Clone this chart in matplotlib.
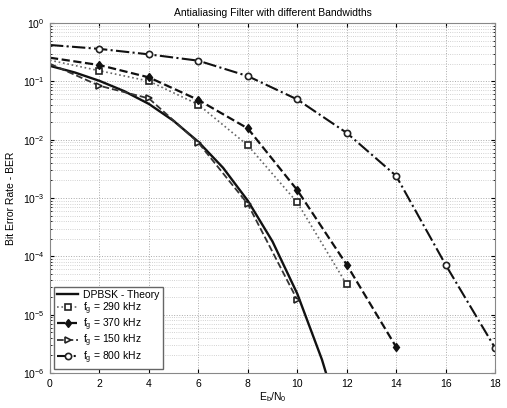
import matplotlib
matplotlib.use("Agg")
import matplotlib.pyplot as plt
from matplotlib.ticker import LogLocator, NullFormatter

# Eb/N0 in dB
x_theory = [0, 1, 2, 3, 4, 5, 6, 7, 8, 9, 10, 11, 12]
ber_theory = [0.184, 0.142, 0.102, 0.068, 0.041, 0.021, 0.0092, 0.0033,
              9.0e-4, 1.8e-4, 2.3e-5, 1.7e-6, 6.8e-8]

x_290 = [0, 2, 4, 6, 8, 10, 12]
ber_290 = [0.23, 0.152, 0.101, 0.040, 0.008, 8.4e-4, 3.3e-5]

x_370 = [0, 2, 4, 6, 8, 10, 12, 14]
ber_370 = [0.254, 0.19, 0.117, 0.048, 0.0156, 1.37e-3, 7.2e-5, 2.8e-6]

x_150 = [0, 2, 4, 6, 8, 10]
ber_150 = [0.2, 0.084, 0.051, 0.0089, 7.9e-4, 1.8e-5]

x_800 = [0, 2, 4, 6, 8, 10, 12, 14, 16, 18]
ber_800 = [0.42, 0.36, 0.29, 0.226, 0.123, 0.049, 0.0131, 0.0024, 7.2e-5, 2.7e-6]

labels = ["DPBSK - Theory", "f$_g$ = 290 kHz", "f$_g$ = 370 kHz",
          "f$_g$ = 150 kHz", "f$_g$ = 800 kHz"]

plt.rcParams['font.family'] = ['Liberation Sans', 'DejaVu Sans']
plt.rcParams['mathtext.fontset'] = 'custom'
plt.rcParams['mathtext.rm'] = 'Liberation Sans'
plt.rcParams['mathtext.it'] = 'Liberation Sans'
fig = plt.figure(figsize=(5.07, 4.08), dpi=100)
ax = fig.add_axes([0.0986, 0.0858, 0.8777, 0.8578])

ms = 4.5
ax.semilogy(x_theory, ber_theory, '-', color='#111111', lw=1.7, label=labels[0])
ax.semilogy(x_290, ber_290, ':', color='#666666', lw=1.2, marker='s', ms=ms,
            mfc='white', mec='#222222', mew=1.2, markevery=slice(1, None), label=labels[1])
ax.semilogy(x_370, ber_370, '--', color='#111111', lw=1.6, marker='d', ms=ms,
            mfc='#111111', mec='#111111', markevery=slice(1, None), label=labels[2])
ax.semilogy(x_150, ber_150, '--', color='#333333', lw=1.3, marker='>', ms=ms,
            mfc='white', mec='#222222', mew=1.2, markevery=slice(1, None), label=labels[3])
ax.semilogy(x_800, ber_800, '-.', color='#111111', lw=1.5, marker='o', ms=ms,
            mfc='white', mec='#222222', mew=1.2, markevery=slice(1, None), label=labels[4])

ax.set_xlim(0, 18)
ax.set_ylim(1e-6, 1)
ax.set_xticks(range(0, 19, 2))
ax.yaxis.set_major_locator(LogLocator(base=10, numticks=10))
ax.yaxis.set_minor_locator(LogLocator(base=10, subs=range(2, 10), numticks=10))
ax.yaxis.set_minor_formatter(NullFormatter())
ax.grid(True, which='major', ls=':', color='#aaaaaa', lw=0.7)
ax.grid(True, which='minor', axis='y', ls=':', color='#c4c4c4', lw=0.6)
ax.tick_params(labelsize=7.5, direction='in', length=3, top=True, right=True, pad=4)
ax.tick_params(which='minor', direction='in', length=1.5, right=True)
for s in ax.spines.values():
    s.set_color('#888888')

ax.set_title("Antialiasing Filter with different Bandwidths", fontsize=7.5, pad=5)
ax.set_xlabel("E$_b$/N$_0$", fontsize=7.5, labelpad=1)
ax.set_ylabel("Bit Error Rate - BER", fontsize=7.5, labelpad=5)

leg = ax.legend(loc='lower left', fontsize=7.5, handlelength=2.0, borderaxespad=0.4,
                fancybox=False, framealpha=1, labelspacing=0.0, handletextpad=0.5,
                borderpad=0.3)
leg.get_frame().set_edgecolor('#666666')

fig.savefig("out.png", dpi=100)
